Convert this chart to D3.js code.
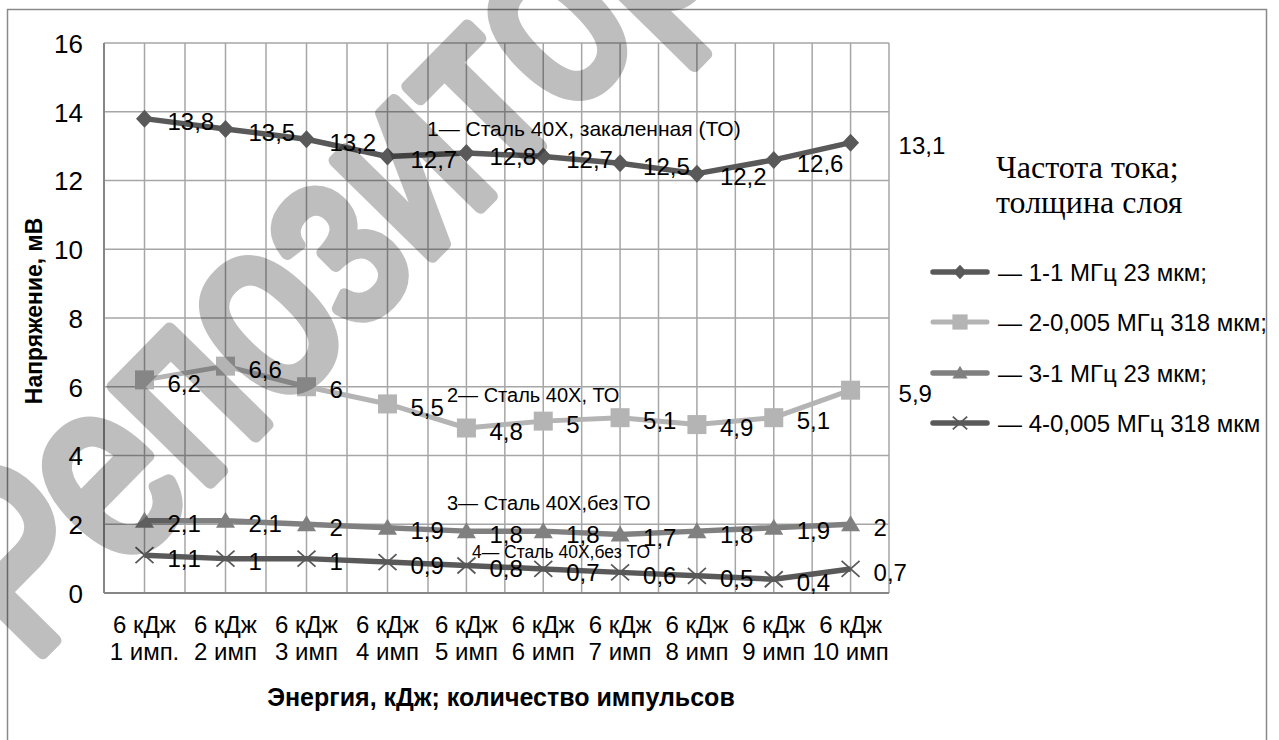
<!DOCTYPE html>
<html><head><meta charset="utf-8">
<script src="https://cdn.jsdelivr.net/npm/d3@7"></script>
<style>body{margin:0;background:#fff} svg{display:block}</style>
</head><body>
<svg id="chart" width="1279" height="740"></svg>
<script>
// ---------- data ----------
const catEnergy = ["6 кДж","6 кДж","6 кДж","6 кДж","6 кДж","6 кДж","6 кДж","6 кДж","6 кДж","6 кДж"];
const catPulses = ["1 имп.","2 имп","3 имп","4 имп","5 имп","6 имп","7 имп","8 имп","9 имп","10 имп"];
const series1 = [13.8,13.5,13.2,12.7,12.8,12.7,12.5,12.2,12.6,13.1];
const series2 = [6.2,6.6,6,5.5,4.8,5,5.1,4.9,5.1,5.9];
const series3 = [2.1,2.1,2,1.9,1.8,1.8,1.7,1.8,1.9,2];
const series4 = [1.1,1,1,0.9,0.8,0.7,0.6,0.5,0.4,0.7];
const seriesNames = ["— 1-1 МГц 23 мкм;","— 2-0,005 МГц 318 мкм;","— 3-1 МГц 23 мкм;","— 4-0,005 МГц 318 мкм"];
const yTicks = [0,2,4,6,8,10,12,14,16];
const notes = ["1— Сталь 40Х, закаленная (ТО)","2— Сталь 40Х, ТО","3— Сталь 40Х,без ТО","4— Сталь 40Х,без ТО"];
const legendTitle = ["Частота тока;","толщина слоя"];
const yTitle = "Напряжение, мВ";
const xTitle = "Энергия, кДж; количество импульсов";
const watermark = "Репозиторий";

// ---------- layout ----------
const FONT = "'Liberation Sans', Arial, sans-serif";
const SERIF = "'Liberation Serif','Times New Roman',serif";
const svg = d3.select("#chart");
const x = d3.scaleLinear().domain([-0.5, 3.5, 9.5]).range([104, 428, 889]);
const y = d3.scaleLinear().domain([0,16]).range([593,43]);

// outer border
svg.append("rect").attr("x",7.5).attr("y",9.5).attr("width",1259).attr("height",760)
  .attr("fill","#fff").attr("stroke","#8a8a8a").attr("stroke-width",1.5);

// grid
const g = svg.append("g");
const halfSteps = d3.range(-0.5, 9.51, 0.5);
g.selectAll("line.v").data(halfSteps).join("line")
  .attr("x1",d=>x(d)).attr("x2",d=>x(d)).attr("y1",y(16)).attr("y2",y(0))
  .attr("stroke","#a6a6a6").attr("stroke-width",1.5);
g.selectAll("line.h").data(yTicks.filter(d=>d>0)).join("line")
  .attr("x1",x(-0.5)).attr("x2",x(9.5)).attr("y1",d=>y(d)).attr("y2",d=>y(d))
  .attr("stroke","#a6a6a6").attr("stroke-width",1.5);
g.append("line").attr("x1",x(-0.5)).attr("x2",x(-0.5)).attr("y1",y(16)).attr("y2",y(0))
  .attr("stroke","#868686").attr("stroke-width",2);
g.append("line").attr("x1",x(-0.5)).attr("x2",x(9.5)).attr("y1",y(0)).attr("y2",y(0))
  .attr("stroke","#868686").attr("stroke-width",2);

// y axis
const yAxis = svg.append("g").attr("transform",`translate(${x(-0.5)},0)`)
  .call(d3.axisLeft(y).tickValues(yTicks).tickSize(0).tickPadding(21).tickFormat(d=>String(d)));
yAxis.select(".domain").remove();
yAxis.selectAll("text").attr("font-family",FONT).attr("font-size",26).attr("fill","#000").attr("dy","0.36em");

// x labels
const xl = svg.append("g");
catEnergy.forEach((t,i)=>{
  xl.append("text").attr("x",x(i)).attr("y",633).attr("text-anchor","middle")
    .attr("font-family",FONT).attr("font-size",24).text(t);
  xl.append("text").attr("x",x(i)).attr("y",660).attr("text-anchor","middle")
    .attr("font-family",FONT).attr("font-size",24).text(catPulses[i]);
});

// axis titles
svg.append("text").attr("x",501).attr("y",706).attr("text-anchor","middle")
  .attr("font-family",FONT).attr("font-weight","bold").attr("font-size",25).text(xTitle);
svg.append("text").attr("transform","translate(42,311) rotate(-90)").attr("text-anchor","middle")
  .attr("font-family",FONT).attr("font-weight","bold").attr("font-size",23).text(yTitle);

// series
const allSeries = [
  {vals:series1, color:"#595959", marker:"diamond", w:5.5},
  {vals:series2, color:"#b4b4b4", marker:"square", w:5},
  {vals:series3, color:"#808080", marker:"triangle", w:5.5},
  {vals:series4, color:"#595959", marker:"x", w:5.5}
];
function drawMarker(sel, type, cx, cy, color, s){
  if(type==="diamond"){
    sel.append("path").attr("d",`M${cx},${cy-9*s}L${cx+8.5*s},${cy}L${cx},${cy+9*s}L${cx-8.5*s},${cy}Z`).attr("fill",color);
  } else if(type==="square"){
    sel.append("rect").attr("x",cx-9.5*s).attr("y",cy-9.5*s).attr("width",19*s).attr("height",19*s).attr("fill",color);
  } else if(type==="triangle"){
    sel.append("path").attr("d",`M${cx},${cy-9*s}L${cx+9.5*s},${cy+7*s}L${cx-9.5*s},${cy+7*s}Z`).attr("fill",color);
  } else {
    sel.append("path").attr("d",`M${cx-9*s},${cy-8*s}L${cx+9*s},${cy+8*s}M${cx-9*s},${cy+8*s}L${cx+9*s},${cy-8*s}`)
      .attr("stroke",color).attr("stroke-width",1.8).attr("fill","none");
  }
}
const line = d3.line().x((d,i)=>x(i)).y(d=>y(d));
const fmt = v => String(v).replace(".", ",");
const labelDx = {"0-9":48, "1-9":48};
allSeries.forEach((s,k)=>{
  const sg = svg.append("g");
  sg.append("path").datum(s.vals).attr("d",line).attr("fill","none")
    .attr("stroke",s.color).attr("stroke-width",s.w).attr("stroke-linejoin","round");
  s.vals.forEach((v,i)=>drawMarker(sg, s.marker, x(i), y(v), s.color, 1));
  s.vals.forEach((v,i)=>{
    const dx = labelDx[k+"-"+i] || 23;
    sg.append("text").attr("x",x(i)+dx).attr("y",y(v)+3).attr("dy","0.36em")
      .attr("font-family",FONT).attr("font-size",24).attr("fill","#000").text(fmt(v));
  });
});

// annotations
const notePos = [[427,136,21],[447,402,20],[447,510,20],[472,558,17.5]];
notes.forEach((t,i)=>{
  svg.append("text").attr("x",notePos[i][0]).attr("y",notePos[i][1])
    .attr("font-family",FONT).attr("font-size",notePos[i][2]).text(t);
});

// legend
svg.append("text").attr("x",996).attr("y",178).attr("font-family",SERIF)
  .attr("font-size",32).text(legendTitle[0]);
svg.append("text").attr("x",996).attr("y",213).attr("font-family",SERIF)
  .attr("font-size",32).text(legendTitle[1]);
const legY = [272,322,373,423];
allSeries.forEach((s,k)=>{
  const lg = svg.append("g");
  lg.append("line").attr("x1",933).attr("x2",987).attr("y1",legY[k]).attr("y2",legY[k])
    .attr("stroke",s.color).attr("stroke-width",s.w).attr("stroke-linecap","round");
  drawMarker(lg, s.marker, 960, legY[k], s.color, 0.8);
  lg.append("text").attr("x",998).attr("y",legY[k]).attr("dy","0.36em")
    .attr("font-family",FONT).attr("font-size",24).text(seriesNames[k]);
});

// watermark
svg.append("g").attr("opacity",0.25)
  .append("text").attr("transform","translate(30,665) rotate(-45.5) scale(1,1.25)")
  .attr("font-family",FONT).attr("font-size",205)
  .attr("fill","#000").attr("stroke","#000").attr("stroke-width",11).attr("stroke-linejoin","round")
  .text(watermark);
</script>
</body></html>
